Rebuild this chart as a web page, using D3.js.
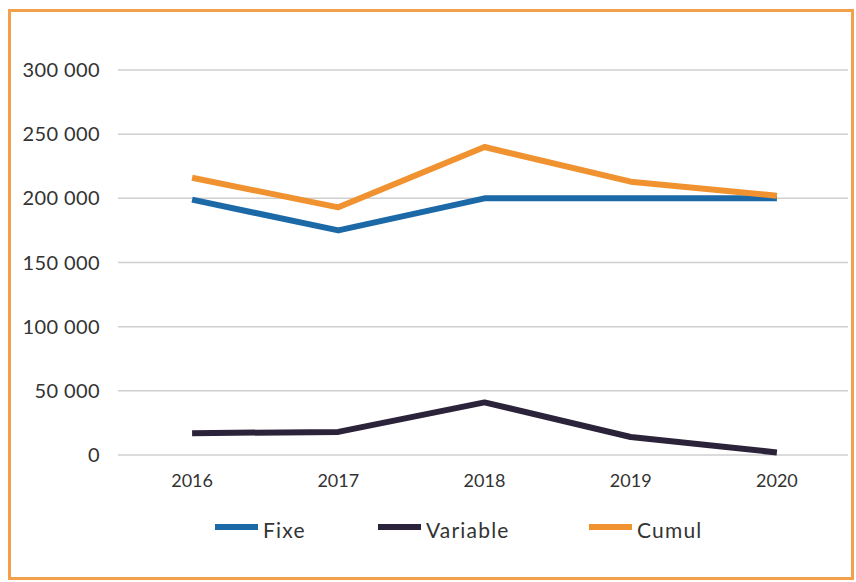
<!DOCTYPE html>
<html><head><meta charset="utf-8">
<script src="https://cdn.jsdelivr.net/npm/d3@7"></script>
<style>html,body{margin:0;padding:0;background:#fff;}svg{display:block;}</style>
</head><body>
<script>
const years = ["2016","2017","2018","2019","2020"];
const fixe = [199000,175000,200000,200000,200000];
const variable = [17000,18000,41000,14000,2000];
const cumul = [216000,193000,240000,213000,202000];
const yTicks = [0,50000,100000,150000,200000,250000,300000];
const seriesNames = ["Fixe","Variable","Cumul"];
const seriesColors = ["#1c69a8","#2b2339","#f0922f"];

const W=856,H=582;
const svg=d3.select("body").append("svg").attr("width",W).attr("height",H);
svg.append("rect").attr("width",W).attr("height",H).attr("fill","#fff");
// frame
svg.append("rect").attr("x",9.5).attr("y",10.5).attr("width",843).attr("height",568)
  .attr("fill","none").attr("stroke","#f2a04a").attr("stroke-width",3);

const x=d3.scalePoint().domain(years).range([119,850]).padding(0.5);
const y=d3.scaleLinear().domain([0,300000]).range([455,70]);
const font="Lato, 'Open Sans', sans-serif";
const fmt=v=>d3.format(",")(v).replace(/,/g," ");

const g=svg.append("g");
g.selectAll("line.grid").data(yTicks).enter().append("line")
  .attr("x1",118).attr("x2",848).attr("y1",d=>y(d)).attr("y2",d=>y(d))
  .attr("stroke","#cfcfcf").attr("stroke-width",1.5);
g.selectAll("text.yl").data(yTicks).enter().append("text")
  .attr("x",100).attr("y",d=>y(d)).attr("dy","0.35em").attr("text-anchor","end")
  .attr("font-family",font).attr("font-size",20).attr("letter-spacing",0.4)
  .attr("fill","#333").text(fmt);
g.selectAll("text.xl").data(years).enter().append("text")
  .attr("x",d=>x(d)).attr("y",487).attr("text-anchor","middle")
  .attr("font-family",font).attr("font-size",18).attr("fill","#333").text(d=>d);

const data=[fixe,variable,cumul];
const line=d3.line().x((d,i)=>x(years[i])).y(d=>y(d));
[1,0,2].forEach(k=>{
  svg.append("path").datum(data[k]).attr("d",line).attr("fill","none")
    .attr("stroke",seriesColors[k]).attr("stroke-width",6).attr("stroke-linejoin","round");
});

const legX=[215,378,589];
seriesNames.forEach((n,i)=>{
  svg.append("line").attr("x1",legX[i]).attr("x2",legX[i]+43).attr("y1",527).attr("y2",527)
    .attr("stroke",seriesColors[i]).attr("stroke-width",6);
  svg.append("text").attr("x",legX[i]+48).attr("y",531).attr("dy","0.35em")
    .attr("font-family",font).attr("font-size",21).attr("letter-spacing",1.2)
    .attr("fill","#333").text(n);
});
</script>
</body></html>
